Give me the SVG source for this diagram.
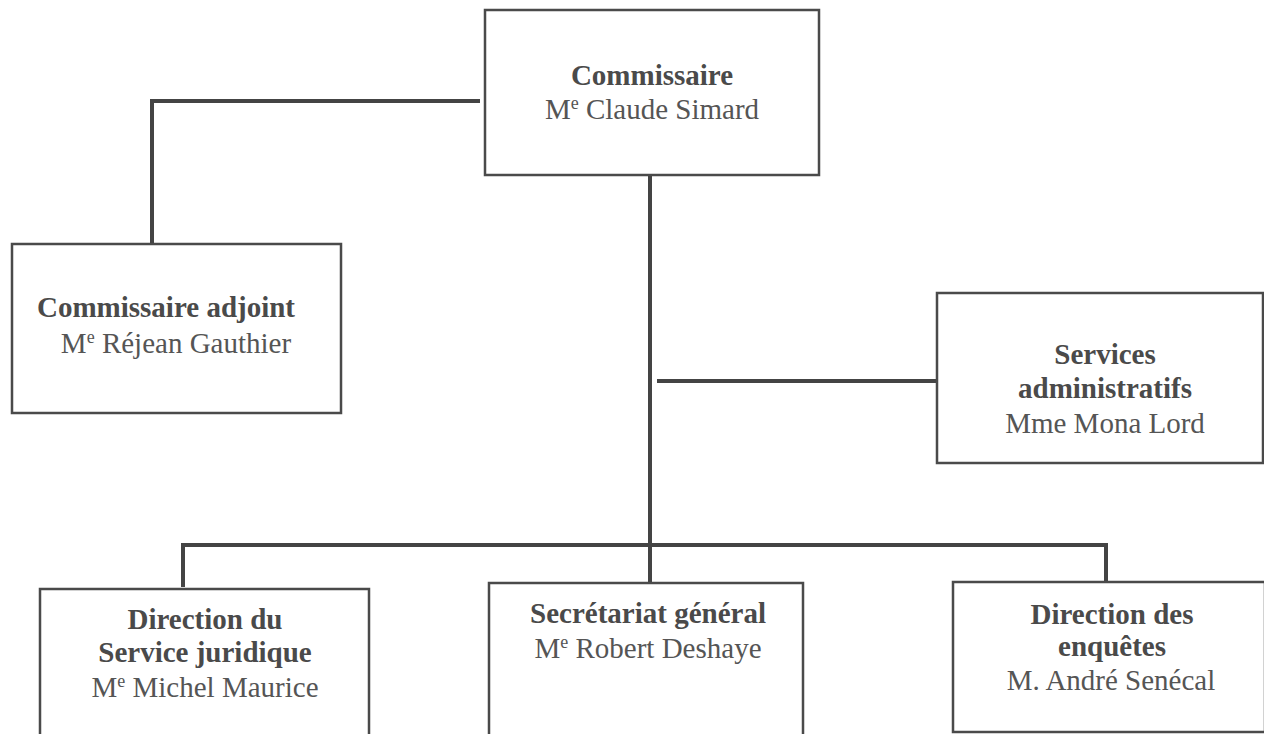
<svg xmlns="http://www.w3.org/2000/svg" width="1264" height="734" viewBox="0 0 1264 734">
<style>
.box{fill:#ffffff;stroke:#4a4a4a;stroke-width:2.5}
.con{fill:none;stroke:#444444;stroke-width:4}
text{font-family:"Liberation Serif","Times New Roman",serif;font-size:29px;fill:#555555;text-anchor:middle}
.b{font-weight:bold;fill:#4a4a4a}
.sup{font-size:18px}
</style>
<rect width="1264" height="734" fill="#ffffff"/>
<g id="connectors">
<polyline class="con" points="480,101 152,101 152,243"/>
<line class="con" x1="650" y1="176" x2="650" y2="583"/>
<line class="con" x1="657" y1="381" x2="936" y2="381"/>
<polyline class="con" points="183,587 183,545 1106,545 1106,581"/>
</g>
<g id="commissaire">
<rect class="box" x="485" y="10" width="334" height="165"/>
<text x="652" y="85" class="b">Commissaire</text>
<text x="652" y="119">M<tspan class="sup" dy="-10">e</tspan><tspan dy="10"> Claude Simard</tspan></text>
</g>
<g id="adjoint">
<rect class="box" x="12" y="244" width="329" height="169"/>
<text x="166" y="317" class="b">Commissaire adjoint</text>
<text x="176" y="353">M<tspan class="sup" dy="-10">e</tspan><tspan dy="10"> Réjean Gauthier</tspan></text>
</g>
<g id="services">
<rect class="box" x="937" y="293" width="326" height="170"/>
<text x="1105" y="364" class="b">Services</text>
<text x="1105" y="398" class="b">administratifs</text>
<text x="1105" y="433">Mme Mona Lord</text>
</g>
<g id="juridique">
<rect class="box" x="40" y="589" width="329" height="160"/>
<text x="205" y="629" class="b">Direction du</text>
<text x="205" y="662" class="b">Service juridique</text>
<text x="205" y="697">M<tspan class="sup" dy="-10">e</tspan><tspan dy="10"> Michel Maurice</tspan></text>
</g>
<g id="secretariat">
<rect class="box" x="489" y="583" width="314" height="170"/>
<text x="648" y="623" class="b">Secrétariat général</text>
<text x="648" y="658">M<tspan class="sup" dy="-10">e</tspan><tspan dy="10"> Robert Deshaye</tspan></text>
</g>
<g id="enquetes">
<rect class="box" x="953" y="582" width="312" height="150"/>
<text x="1112" y="624" class="b">Direction des</text>
<text x="1112" y="656" class="b">enquêtes</text>
<text x="1111" y="690">M. André Senécal</text>
</g>
</svg>
